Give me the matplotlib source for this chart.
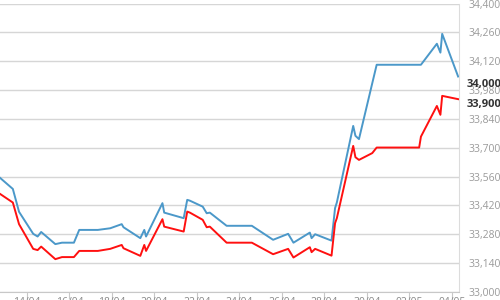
import pandas as pd
import matplotlib
matplotlib.use("Agg")
import matplotlib.pyplot as plt
import matplotlib.dates as mdates
from matplotlib.ticker import FuncFormatter

plt.rcParams['font.family'] = ['Open Sans', 'DejaVu Sans']

times = [
    "2024-04-12 17:30", "2024-04-13 08:00", "2024-04-13 15:00", "2024-04-14 07:00",
    "2024-04-14 12:00", "2024-04-14 16:00", "2024-04-15 08:00", "2024-04-15 15:30",
    "2024-04-16 05:00", "2024-04-16 11:00", "2024-04-17 08:00", "2024-04-17 22:00",
    "2024-04-18 11:00", "2024-04-18 13:00", "2024-04-19 08:00", "2024-04-19 12:30",
    "2024-04-19 14:30", "2024-04-20 09:00", "2024-04-20 11:00", "2024-04-21 09:00",
    "2024-04-21 13:00", "2024-04-21 16:00", "2024-04-22 06:30", "2024-04-22 11:00",
    "2024-04-22 14:30", "2024-04-23 09:30", "2024-04-24 14:00", "2024-04-25 14:00",
    "2024-04-26 07:00", "2024-04-26 13:00", "2024-04-27 07:30", "2024-04-27 09:30",
    "2024-04-27 13:30", "2024-04-28 08:00", "2024-04-28 12:00", "2024-04-28 14:00",
    "2024-04-29 08:30", "2024-04-29 11:00", "2024-04-29 15:00", "2024-04-30 06:00",
    "2024-04-30 11:00", "2024-05-02 11:00", "2024-05-02 13:00", "2024-05-03 07:00",
    "2024-05-03 11:00", "2024-05-03 13:00", "2024-05-04 07:00",
]
sell = [
    33554, 33500, 33389, 33282, 33269, 33291, 33232, 33239,
    33239, 33301, 33301, 33309, 33329, 33314, 33261, 33301,
    33269, 33431, 33385, 33358, 33447, 33443, 33414, 33382,
    33385, 33321, 33321, 33253, 33282, 33239, 33288, 33261,
    33280, 33249, 33407, 33434, 33806, 33758, 33742, 34013,
    34103, 34103, 34103, 34205, 34162, 34253, 34046,
]
buy = [
    33476, 33434, 33329, 33209, 33203, 33220, 33159, 33169,
    33169, 33199, 33199, 33209, 33228, 33212, 33175, 33228,
    33199, 33353, 33317, 33293, 33390, 33385, 33350, 33314,
    33317, 33239, 33239, 33183, 33209, 33167, 33217, 33193,
    33209, 33176, 33334, 33358, 33709, 33654, 33641, 33674,
    33701, 33701, 33754, 33903, 33860, 33952, 33936,
]
last_labels = ["34,000", "33,900"]
y_ticks = list(range(33000, 34401, 140))

dates = pd.to_datetime(times)

fig = plt.figure(figsize=(5, 3), dpi=100)
ax = fig.add_axes([0.0, 0.027, 0.918, 0.961])

ax.plot(dates, sell, color="#4b98c9", lw=1.4, zorder=3)
ax.plot(dates, buy, color="#ff1010", lw=1.4, zorder=3)

ax.set_xlim(pd.Timestamp("2024-04-12 17:30"), pd.Timestamp("2024-05-04 08:00"))
ax.set_ylim(33000, 34400)
ax.set_yticks(y_ticks)
ax.yaxis.tick_right()
ax.yaxis.set_major_formatter(FuncFormatter(lambda v, p: f"{int(v):,}"))
ax.tick_params(axis="y", length=0, pad=7, labelsize=7.5, labelcolor="#9a9a9a")
ax.grid(axis="y", color="#d6d6d6", lw=1)
ax.set_axisbelow(True)

ax.xaxis.set_major_locator(mdates.DayLocator(bymonthday=[14, 16, 18, 20, 22, 24, 26, 28, 30, 2, 4]))
ax.xaxis.set_major_formatter(mdates.DateFormatter("%d/%m"))
ax.tick_params(axis="x", length=5, color="#c8c8c8", pad=-1, labelsize=7.5, labelcolor="#888888")

for side in ["top", "left"]:
    ax.spines[side].set_visible(False)
ax.spines["bottom"].set_color("#c8c8c8")
ax.spines["right"].set_color("#dcdcdc")

fig.text(467 / 500, 1 - 84 / 300, last_labels[0], ha="left", va="center",
         fontsize=8, color="#333333", fontweight="bold")
fig.text(467 / 500, 1 - 104 / 300, last_labels[1], ha="left", va="center",
         fontsize=8, color="#333333", fontweight="bold")

fig.savefig("out.png", dpi=100)
